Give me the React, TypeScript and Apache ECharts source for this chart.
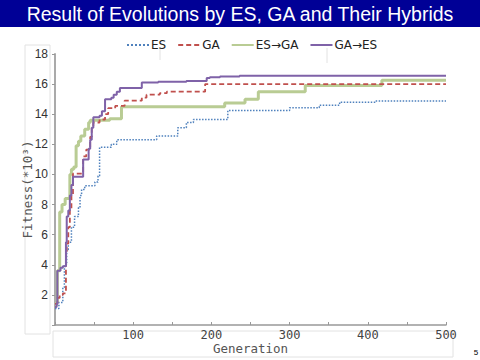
import React, { useEffect, useRef } from "react";
import * as echarts from "echarts";

const titleText = "Result of Evolutions by ES, GA and Their Hybrids";
const seriesNames = ["ES", "GA", "ES→GA", "GA→ES"];
const xLabelValues = [100, 200, 300, 400, 500];
const yLabelValues = [2, 4, 6, 8, 10, 12, 14, 16, 18];

const esGen = [0, 5, 10, 12, 15, 17, 21, 25, 30, 32, 34, 38, 51, 55, 57, 70, 72, 79, 130, 157, 168, 177, 221, 300, 338, 364, 409, 500];
const esVal = [1.1, 1.5, 2.5, 4.0, 5.0, 5.5, 6.5, 7.2, 7.8, 8.6, 9.0, 9.25, 9.5, 9.9, 11.8, 11.8, 12.0, 12.3, 12.55, 13.1, 13.45, 13.65, 14.25, 14.43, 14.6, 14.8, 14.87, 14.87];

const gaGen = [0, 3, 6, 10, 14, 15, 17, 19, 21, 23, 36, 40, 45, 47, 49, 57, 64, 68, 77, 89, 111, 117, 134, 143, 192, 500];
const gaVal = [1.4, 1.8, 2.0, 2.1, 4.7, 5.4, 6.5, 7.7, 8.6, 10.05, 11.2, 11.65, 12.5, 13.2, 13.45, 13.65, 14.0, 14.4, 14.55, 14.9, 15.1, 15.3, 15.4, 15.5, 16.0, 16.0];

const esgaGen = [0, 2, 3, 5, 6, 9, 13, 19, 21, 24, 27, 30, 33, 38, 43, 45, 70, 85, 217, 243, 260, 320, 418, 500];
const esgaVal = [1.3, 1.5, 3.6, 3.6, 7.5, 8.0, 8.4, 10.0, 10.35, 10.5, 11.9, 12.2, 12.55, 13.0, 13.45, 13.6, 13.7, 14.5, 14.75, 15.0, 15.5, 15.9, 16.25, 16.25];

const gaesGen = [0, 2, 3, 7, 10, 14, 15, 17, 19, 21, 23, 36, 43, 45, 47, 49, 57, 60, 64, 72, 75, 79, 83, 111, 132, 168, 194, 198, 211, 236, 500];
const gaesVal = [1.2, 1.4, 3.6, 3.8, 3.9, 5.5, 7.2, 7.6, 8.6, 9.3, 9.85, 11.0, 11.7, 12.3, 13.1, 13.8, 13.9, 14.2, 15.0, 15.1, 15.3, 15.5, 15.75, 16.1, 16.15, 16.2, 16.4, 16.45, 16.5, 16.55, 16.55];

const zip = (g: number[], v: number[]) => g.map((x, i) => [x, v[i]]);

export default function App() {
  const ref = useRef<HTMLDivElement>(null);
  useEffect(() => {
    if (!ref.current) return;
    const chart = echarts.init(ref.current, null, { renderer: "svg" });
    const sans = "Liberation Sans";
    const legendFont = "DejaVu Sans";
    const mono = "DejaVu Sans Mono";
    const lineColor = "#e2e2e2";
    chart.setOption({
      animation: false,
      backgroundColor: "#ffffff",
      graphic: [
        { type: "rect", shape: { x: 0, y: 0, width: 480, height: 27 }, style: { fill: "#000096" }, z: 0 },
        {
          type: "text", x: 240, y: 14,
          style: { text: titleText, fill: "#ffffff", font: `19.5px "${sans}"`, textAlign: "center", textVerticalAlign: "middle" },
        },
        { type: "rect", shape: { x: 25, y: 45, width: 25, height: 289 }, style: { fill: "none", stroke: lineColor, lineWidth: 1 }, z: -1 },
        { type: "rect", shape: { x: 53, y: 331, width: 400, height: 26 }, style: { fill: "none", stroke: lineColor, lineWidth: 1 }, z: -1 },
        { type: "line", shape: { x1: 160, y1: 48, x2: 160, y2: 60 }, style: { stroke: lineColor, lineWidth: 1 } },
        { type: "line", shape: { x1: 327, y1: 48, x2: 327, y2: 63 }, style: { stroke: lineColor, lineWidth: 1 } },
        {
          type: "text", x: 476, y: 352,
          style: { text: "5", fill: "#000", font: `8px "${sans}"`, textAlign: "center", textVerticalAlign: "middle" },
        },
      ],
      legend: {
        data: seriesNames,
        top: 34,
        left: 121,
        itemWidth: 22,
        itemHeight: 12,
        itemGap: 11,
        itemStyle: { opacity: 0 },
        textStyle: { fontFamily: legendFont, fontSize: 12, color: "#222", padding: [0, 0, 0, -3] },
      },
      grid: { left: 55, right: 34, top: 54, bottom: 34 },
      xAxis: {
        type: "value",
        min: 0,
        max: 500,
        interval: 50,
        name: "Generation",
        nameLocation: "middle",
        nameGap: 17,
        nameMoveOverlap: false,
        nameTextStyle: { fontFamily: mono, fontSize: 12.5, color: "#555" },
        axisLine: { lineStyle: { color: "#999", width: 1.5 } },
        axisTick: { inside: true, length: 3, lineStyle: { color: "#999" } },
        axisLabel: {
          margin: 4,
          fontFamily: mono,
          fontSize: 12,
          color: "#444",
          formatter: (v: number) => (xLabelValues.includes(v) ? String(v) : ""),
        },
        splitLine: { show: false },
      },
      yAxis: {
        type: "value",
        min: 0,
        max: 18,
        interval: 2,
        name: "Fitness(*10³)",
        nameLocation: "middle",
        nameGap: 21,
        nameMoveOverlap: false,
        nameRotate: 90,
        nameTextStyle: { fontFamily: mono, fontSize: 12.5, color: "#555" },
        axisLine: { show: true, lineStyle: { color: "#aaa", width: 2 } },
        axisTick: { show: true, length: 3, lineStyle: { color: "#999" } },
        axisLabel: {
          margin: 7,
          fontFamily: sans,
          fontSize: 12,
          color: "#333",
          formatter: (v: number) => (yLabelValues.includes(v) ? String(v) : ""),
        },
        splitLine: { show: false },
      },
      series: [
        {
          name: "ES", type: "line", step: "end", symbol: "none", z: 3,
          data: zip(esGen, esVal),
          lineStyle: { color: "#4f81bd", width: 1.5, type: "dotted" },
          itemStyle: { color: "#4f81bd" },
        },
        {
          name: "GA", type: "line", step: "end", symbol: "none", z: 4,
          data: zip(gaGen, gaVal),
          lineStyle: { color: "#c0504d", width: 1.8, type: [5, 3] },
          itemStyle: { color: "#c0504d" },
        },
        {
          name: "ES→GA", type: "line", step: "end", symbol: "none", z: 2,
          data: zip(esgaGen, esgaVal),
          lineStyle: { color: "#b9cc94", width: 3 },
          itemStyle: { color: "#b9cc94" },
        },
        {
          name: "GA→ES", type: "line", step: "end", symbol: "none", z: 5,
          data: zip(gaesGen, gaesVal),
          lineStyle: { color: "#7f62a8", width: 2 },
          itemStyle: { color: "#7f62a8" },
        },
      ],
    });
    return () => chart.dispose();
  }, []);
  return <div ref={ref} style={{ position: "fixed", left: 0, top: 0, width: 480, height: 360 }} />;
}
